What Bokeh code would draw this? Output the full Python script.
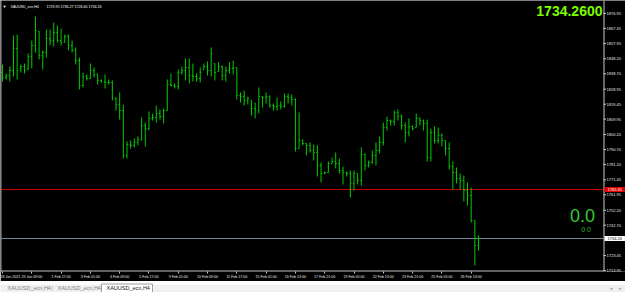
from bokeh.plotting import figure
from bokeh.models import Range1d, FixedTicker, NumeralTickFormatter, Label, BoxAnnotation
from bokeh.layouts import column
from bokeh.embed import file_html
from bokeh.resources import INLINE

symbol = "XAUUSD_ecn,H4"
title_prices = "1729.95 1736.27 1726.60 1734.26"
last_price = 1734.26
alert_price = 1765.35

opens = [1839.5, 1836.4, 1837.6, 1840.8, 1854.8, 1842.1, 1843.3, 1842.1, 1849.7, 1856.7,
         1865.5, 1850.3, 1852.2, 1861.1, 1859.8, 1864.9, 1859.8, 1858.6, 1862.4, 1856.7,
         1853.5, 1847.1, 1831.3, 1837.0, 1835.7, 1840.8, 1838.3, 1834.5, 1833.8, 1833.2,
         1833.2, 1823.1, 1819.2, 1815.4, 1786.9, 1793.9, 1793.3, 1795.2, 1797.1, 1805.9,
         1804.0, 1810.4, 1811.0, 1813.5, 1811.6, 1815.4, 1831.9, 1831.3, 1830.7, 1839.5,
         1840.8, 1842.7, 1837.6, 1837.0, 1835.7, 1841.4, 1843.3, 1840.8, 1845.2, 1840.2,
         1843.3, 1837.6, 1840.8, 1842.1, 1842.7, 1825.0, 1824.3, 1821.8, 1821.8, 1816.7,
         1815.4, 1824.3, 1823.7, 1824.3, 1818.6, 1818.0, 1818.6, 1818.0, 1824.3, 1823.7,
         1822.4, 1791.3, 1796.4, 1794.5, 1793.3, 1790.1, 1788.8, 1780.6, 1775.5, 1776.1,
         1781.8, 1783.1, 1781.8, 1777.4, 1776.1, 1775.5, 1769.2, 1775.5, 1771.1, 1787.5,
         1780.6, 1782.5, 1786.9, 1790.1, 1795.2, 1804.7, 1809.1, 1808.5, 1814.2, 1811.6,
         1805.9, 1801.5, 1805.3, 1804.7, 1810.4, 1809.1, 1807.2, 1785.6, 1801.5, 1796.4,
         1799.6, 1796.4, 1791.3, 1779.9, 1776.1, 1772.3, 1771.1, 1764.7, 1761.5, 1745.7,
         1729.95]
highs = [1844.6, 1838.9, 1843.3, 1863.0, 1863.6, 1844.6, 1845.2, 1851.6, 1859.8, 1875.0,
         1865.5, 1853.5, 1866.8, 1866.8, 1871.2, 1869.3, 1867.4, 1863.6, 1863.6, 1859.8,
         1855.4, 1849.0, 1839.5, 1838.3, 1845.2, 1842.7, 1838.9, 1835.1, 1838.3, 1835.1,
         1834.5, 1823.7, 1826.9, 1819.2, 1795.8, 1796.4, 1797.7, 1799.0, 1811.0, 1807.8,
         1814.8, 1813.5, 1818.6, 1816.1, 1816.7, 1835.1, 1838.9, 1832.6, 1841.4, 1843.3,
         1848.4, 1848.4, 1845.2, 1838.9, 1842.7, 1845.2, 1846.5, 1855.4, 1845.2, 1845.9,
         1844.0, 1843.3, 1845.9, 1847.1, 1842.7, 1826.9, 1828.1, 1824.3, 1821.8, 1820.5,
         1830.0, 1824.3, 1826.9, 1825.0, 1819.9, 1823.7, 1821.2, 1826.2, 1826.2, 1825.6,
         1823.1, 1814.2, 1797.1, 1794.5, 1795.2, 1793.9, 1793.3, 1782.5, 1776.8, 1783.1,
         1785.6, 1788.8, 1785.0, 1779.9, 1776.8, 1777.4, 1777.4, 1775.5, 1792.0, 1788.2,
         1783.7, 1790.1, 1795.2, 1799.0, 1807.8, 1811.6, 1809.7, 1815.4, 1816.1, 1812.9,
         1807.8, 1810.4, 1805.9, 1813.5, 1811.0, 1809.7, 1809.7, 1804.0, 1805.3, 1804.7,
         1800.9, 1796.4, 1795.2, 1783.1, 1779.3, 1775.5, 1774.2, 1769.8, 1766.6, 1745.7,
         1736.27]
lows = [1833.8, 1835.1, 1833.8, 1837.0, 1835.1, 1839.5, 1838.9, 1840.8, 1842.1, 1852.2,
        1847.8, 1841.4, 1849.0, 1856.7, 1856.0, 1858.6, 1856.7, 1858.6, 1853.5, 1852.2,
        1844.6, 1828.8, 1830.0, 1834.5, 1835.7, 1836.4, 1831.9, 1833.2, 1829.4, 1831.9,
        1821.8, 1815.4, 1809.7, 1785.0, 1785.0, 1791.3, 1792.0, 1793.3, 1796.4, 1792.6,
        1802.8, 1809.1, 1807.8, 1809.7, 1807.2, 1815.4, 1830.7, 1829.4, 1828.8, 1838.3,
        1834.5, 1832.6, 1833.8, 1833.8, 1833.2, 1841.4, 1837.6, 1837.0, 1834.5, 1840.2,
        1834.5, 1833.8, 1838.9, 1838.3, 1822.4, 1820.5, 1818.6, 1819.2, 1812.3, 1810.4,
        1813.5, 1817.3, 1819.9, 1817.3, 1815.4, 1815.4, 1816.1, 1817.3, 1819.9, 1818.6,
        1789.4, 1791.3, 1793.3, 1786.9, 1788.8, 1783.7, 1773.6, 1769.8, 1774.9, 1776.1,
        1781.8, 1778.7, 1775.5, 1768.5, 1773.6, 1760.3, 1764.7, 1768.5, 1767.9, 1777.4,
        1779.3, 1781.8, 1780.6, 1788.2, 1793.3, 1802.8, 1805.9, 1805.9, 1809.1, 1803.4,
        1795.2, 1799.0, 1802.8, 1804.7, 1805.9, 1802.8, 1783.1, 1783.1, 1794.5, 1794.5,
        1792.6, 1786.9, 1778.0, 1765.4, 1769.2, 1765.4, 1757.7, 1755.2, 1744.4, 1717.2,
        1726.60]
closes = [1836.4, 1837.6, 1840.8, 1854.8, 1840.8, 1843.3, 1840.8, 1849.7, 1856.7, 1866.2,
          1850.3, 1852.2, 1861.1, 1859.8, 1864.9, 1859.8, 1858.6, 1862.4, 1856.7, 1853.5,
          1847.1, 1831.3, 1837.0, 1835.7, 1840.8, 1838.3, 1834.5, 1833.8, 1833.2, 1833.2,
          1823.1, 1819.2, 1815.4, 1786.9, 1793.9, 1793.3, 1795.2, 1797.1, 1805.9, 1804.0,
          1810.4, 1811.0, 1813.5, 1811.6, 1815.4, 1831.9, 1831.3, 1830.7, 1839.5, 1840.8,
          1842.7, 1837.6, 1837.0, 1835.7, 1839.5, 1843.3, 1840.8, 1851.6, 1839.5, 1843.3,
          1837.6, 1840.8, 1842.1, 1842.7, 1825.0, 1824.3, 1821.8, 1823.1, 1816.7, 1815.4,
          1824.3, 1823.7, 1824.3, 1818.6, 1818.0, 1818.6, 1818.0, 1824.3, 1823.7, 1822.4,
          1791.3, 1796.4, 1794.5, 1793.3, 1790.1, 1788.8, 1780.6, 1775.5, 1776.1, 1781.8,
          1783.1, 1781.8, 1777.4, 1776.1, 1775.5, 1769.2, 1775.5, 1771.1, 1787.5, 1780.6,
          1782.5, 1786.9, 1790.1, 1795.2, 1804.7, 1809.1, 1808.5, 1814.2, 1811.6, 1805.9,
          1801.5, 1805.3, 1804.0, 1810.4, 1809.1, 1807.2, 1785.6, 1801.5, 1796.4, 1799.6,
          1796.4, 1791.3, 1779.9, 1776.1, 1772.3, 1771.1, 1764.7, 1761.5, 1745.7, 1729.8,
          1734.26]
bar_index = list(range(len(opens)))

time_tick_bars = [0, 8, 16, 24, 32, 40, 48, 56, 64, 72, 80, 88, 96, 104, 112, 120, 128]
time_tick_labels = ["28 Jan 2021", "29 Jan 09:00", "1 Feb 17:00", "3 Feb 01:00", "4 Feb 09:00",
                    "5 Feb 17:00", "9 Feb 01:00", "10 Feb 09:00", "11 Feb 17:00", "15 Feb 01:00",
                    "16 Feb 13:00", "17 Feb 21:00", "19 Feb 05:00", "22 Feb 13:00", "23 Feb 21:00",
                    "25 Feb 05:00", "26 Feb 13:00"]
price_ticks = [1876.95, 1867.45, 1857.95, 1848.20, 1838.70, 1828.95, 1819.45, 1809.95, 1800.20,
               1790.70, 1781.20, 1771.45, 1761.95, 1752.20, 1742.70, 1723.45, 1713.95]
tab_names = ["XAUUSD_ecn,H4", "XAUUSD_ecn,H4", "XAUUSD_ecn,H4"]

FONT = "Liberation Sans"
BAR = "#00cc00"
BORDER = "#c8c8c8"

# frame spans the whole 625 px; the bar area ends at 603 px, the price scale sits right of it
X0, X1 = -0.546, 170.15
p = figure(width=625, height=281, x_range=Range1d(X0, X1), y_range=Range1d(1713.35, 1885.19),
           y_axis_location="right", toolbar_location=None, output_backend="svg",
           min_border_left=0, min_border_top=0, min_border_right=0, min_border_bottom=10,
           background_fill_color="black", border_fill_color="black", outline_line_color=None)
p.xgrid.visible = False
p.ygrid.visible = False

xa = p.xaxis[0]
xa.ticker = FixedTicker(ticks=time_tick_bars)
xa.major_label_overrides = {b: l for b, l in zip(time_tick_bars, time_tick_labels)}
xa.major_label_text_font = FONT
xa.major_label_text_font_size = "3.6px"
xa.major_label_text_color = "#e6e6e6"
xa.major_label_text_align = "left"
xa.major_label_standoff = 1
xa.major_tick_out = 2
xa.major_tick_in = 0
xa.major_tick_line_color = BORDER
xa.minor_tick_line_color = None
xa.axis_line_color = None

ya = p.yaxis[0]
ya.ticker = FixedTicker(ticks=price_ticks)
ya.formatter = NumeralTickFormatter(format="0.00")
ya.major_label_text_font = FONT
ya.major_label_text_font_size = "4px"
ya.major_label_text_color = "#e6e6e6"
ya.major_label_standoff = -19
ya.major_tick_out = 0
ya.major_tick_in = 0
ya.major_tick_line_color = None
ya.minor_tick_line_color = None
ya.axis_line_color = None

# chart window border: left, right (price-scale edge) and bottom
p.add_layout(BoxAnnotation(left=0, right=1, bottom=0, top=271, left_units="screen", right_units="screen",
                           bottom_units="screen", top_units="screen", fill_color="#9a9a9a", fill_alpha=1,
                           line_color=None))
p.add_layout(BoxAnnotation(left=603, right=604, bottom=0, top=271, left_units="screen", right_units="screen",
                           bottom_units="screen", top_units="screen", fill_color=BORDER, fill_alpha=1,
                           line_color=None))
p.add_layout(BoxAnnotation(left=0, right=604, bottom=0, top=1, left_units="screen", right_units="screen",
                           bottom_units="screen", top_units="screen", fill_color=BORDER, fill_alpha=1,
                           line_color=None))

bar_end = X0 + 603 / 3.6615
# alert line (red) and bid line (slate gray) across the bar area
p.segment(x0=[X0, X0], y0=[alert_price, last_price], x1=[bar_end, bar_end], y1=[alert_price, last_price],
          line_color=["#cc0000", "#778899"], line_width=1)

tick = 0.3
p.segment(x0=bar_index, y0=lows, x1=bar_index, y1=highs, line_color=BAR, line_width=1)
p.segment(x0=[i - tick for i in bar_index], y0=opens, x1=bar_index, y1=opens, line_color=BAR, line_width=1)
p.segment(x0=bar_index, y0=closes, x1=[i + tick for i in bar_index], y1=closes, line_color=BAR, line_width=1)

# small price-scale tick marks
p.segment(x0=[bar_end] * len(price_ticks), y0=price_ticks, x1=[bar_end + 0.7] * len(price_ticks),
          y1=price_ticks, line_color=BORDER, line_width=1)

# price boxes on the price scale
p.add_layout(Label(x=604, y=alert_price, x_units="screen", y_units="data", text="%.2f" % alert_price,
                   text_font=FONT, text_font_size="4px", text_color="white", text_baseline="middle",
                   background_fill_color="#e00000", padding=dict(x=3, y=1)))
p.add_layout(Label(x=604, y=last_price, x_units="screen", y_units="data", text="%.2f" % last_price,
                   text_font=FONT, text_font_size="4px", text_color="black", text_baseline="middle",
                   background_fill_color="white", padding=dict(x=3, y=1)))

p.add_layout(Label(x=2, y=265, x_units="screen", y_units="screen", text="\u25bc",
                   text_font=FONT, text_font_size="4px", text_color="white", text_baseline="middle"))
p.add_layout(Label(x=10, y=265, x_units="screen", y_units="screen", text=symbol,
                   text_font=FONT, text_font_size="3.6px", text_color="white", text_baseline="middle"))
p.add_layout(Label(x=46, y=265, x_units="screen", y_units="screen", text=title_prices,
                   text_font=FONT, text_font_size="3.6px", text_color="white", text_baseline="middle"))
p.add_layout(Label(x=602, y=266, x_units="screen", y_units="screen", text="%.4f" % last_price,
                   text_font=FONT, text_font_size="14px", text_font_style="bold",
                   text_color="#7cfc00", text_align="right", text_baseline="top"))
p.add_layout(Label(x=582, y=56, x_units="screen", y_units="screen", text="0.0",
                   text_font=FONT, text_font_size="18px", text_color="#32cd32",
                   text_align="center", text_baseline="middle"))
p.add_layout(Label(x=585.5, y=42.5, x_units="screen", y_units="screen", text="0 0",
                   text_font=FONT, text_font_size="7px", text_color="#2fb52f",
                   text_align="center", text_baseline="middle"))

t = figure(width=625, height=11, x_range=Range1d(0, 625), y_range=Range1d(0, 11),
           toolbar_location=None, output_backend="svg", min_border=0,
           background_fill_color="#f0f0f0", border_fill_color="#f0f0f0", outline_line_color=None)
t.axis.visible = False
t.grid.visible = False
t.quad(left=0, right=625, bottom=9, top=11, fill_color="white", line_color=None)
t.quad(left=101, right=152, bottom=-1, top=9.5, fill_color="white", line_color="#a0a0a0", line_width=1)
t.text(x=[7, 57, 106], y=[5.3, 5.3, 5.3], text=tab_names, text_font={"value": FONT},
       text_font_size="5.5px", text_color=["#808080", "#808080", "#202020"], text_baseline="middle")
t.text(x=[51, 609, 618], y=[5.3, 5.3, 5.3], text=["|", "\u25c2", "\u25b8"], text_font={"value": FONT},
       text_font_size="5px", text_color="#a0a0a0", text_baseline="middle")

layout = column(p, t, spacing=0)
open("out.html", "w").write(file_html(layout, INLINE))
